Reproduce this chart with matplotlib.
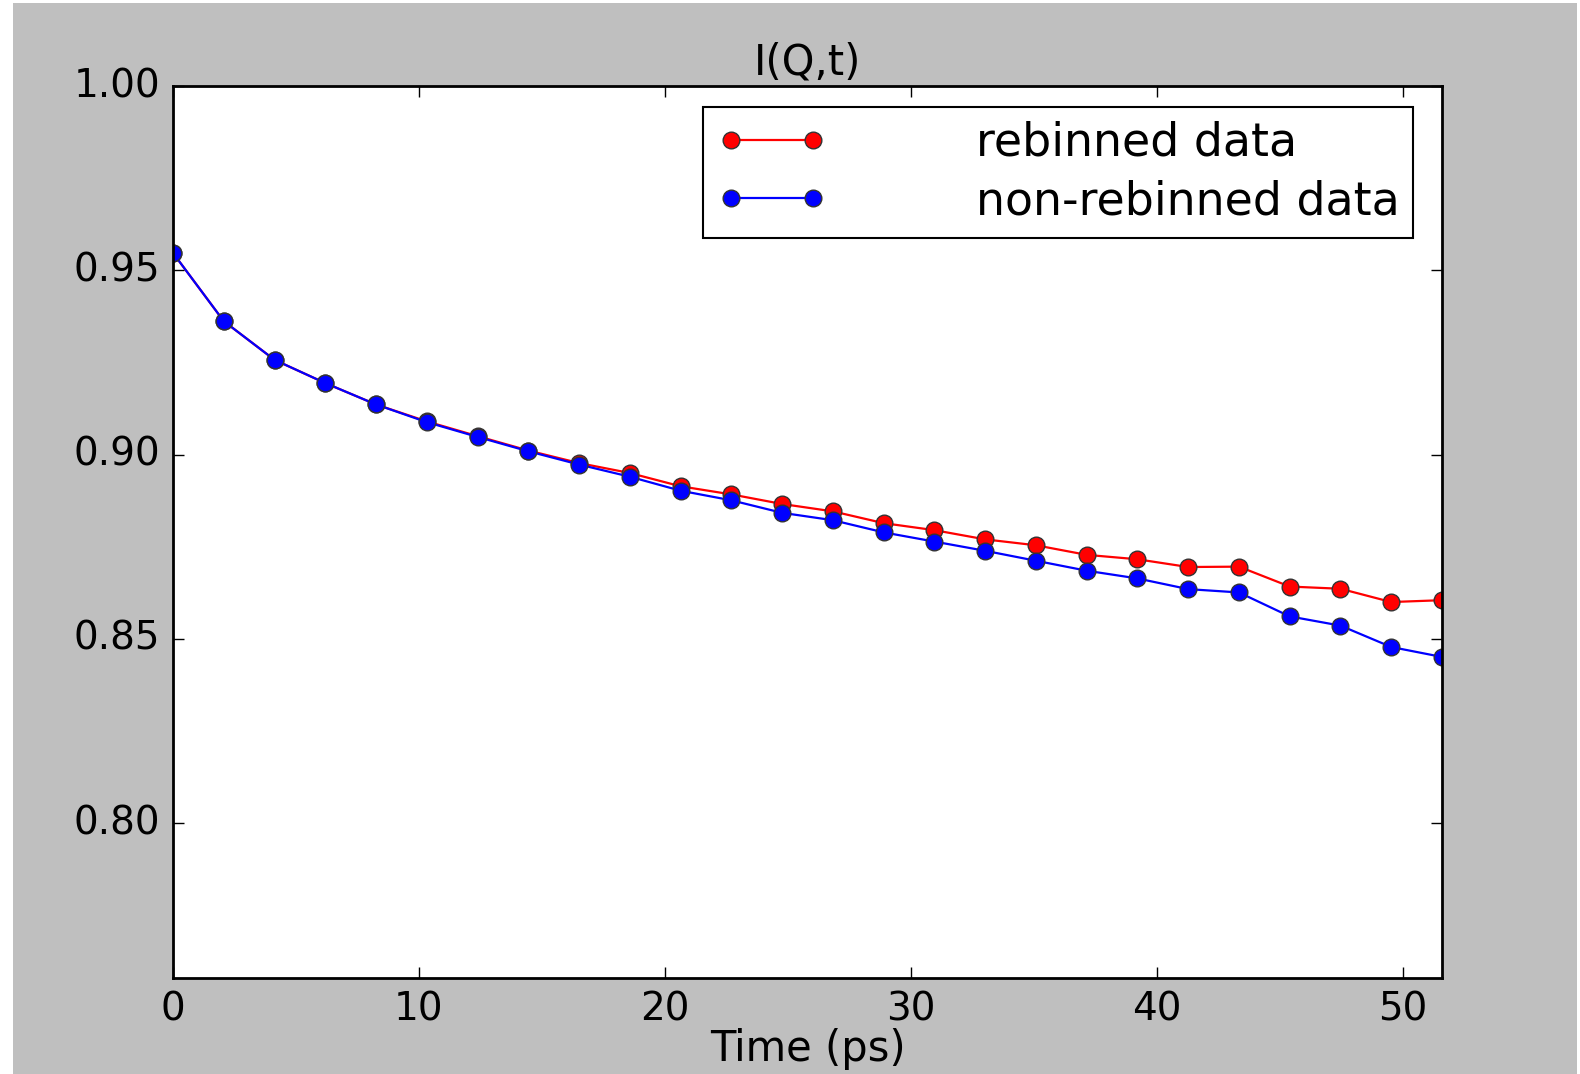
import matplotlib
matplotlib.use("Agg")
import matplotlib.pyplot as plt
from matplotlib.patches import Rectangle

# Czas (ps)
times = [0.0, 2.064, 4.128, 6.192, 8.256, 10.32, 12.384, 14.448, 16.512,
         18.576, 20.64, 22.704, 24.768, 26.832, 28.896, 30.96, 33.024,
         35.088, 37.152, 39.216, 41.28, 43.344, 45.408, 47.472, 49.536, 51.6]

rebinned = [0.9547, 0.9362, 0.9257, 0.9194, 0.9136, 0.9090, 0.9050, 0.9011,
            0.8977, 0.8950, 0.8914, 0.8892, 0.8866, 0.8846, 0.8814, 0.8795,
            0.8770, 0.8754, 0.8728, 0.8716, 0.8695, 0.8696, 0.8642, 0.8636,
            0.8600, 0.8605]

non_rebinned = [0.9547, 0.9362, 0.9257, 0.9194, 0.9136, 0.9088, 0.9048, 0.9009,
                0.8973, 0.8940, 0.8902, 0.8876, 0.8842, 0.8822, 0.8789, 0.8764,
                0.8739, 0.8712, 0.8685, 0.8664, 0.8635, 0.8626, 0.8561, 0.8536,
                0.8478, 0.8451]

plt.style.use("classic")

W, H = 1580, 1074
fig = plt.figure(figsize=(W / 100, H / 100), dpi=100, facecolor="white")
# szare tlo figury z cienka biala ramka jak w oryginale
fig.add_artist(Rectangle((13 / W, 0), (1577 - 13) / W, (H - 3) / H,
                         transform=fig.transFigure, facecolor="#bfbfbf",
                         edgecolor="none", zorder=-10))

ax = fig.add_axes([173 / W, 1 - 978 / H, (1442 - 173) / W, (978 - 86) / H])

ax.plot(times, rebinned, "o-", color="red", markerfacecolor="red",
        markeredgecolor="#333333", markeredgewidth=1.0, markersize=12,
        linewidth=1.6, label="rebinned data")
ax.plot(times, non_rebinned, "o-", color="blue", markerfacecolor="blue",
        markeredgecolor="#333333", markeredgewidth=1.0, markersize=12,
        linewidth=1.6, label="non-rebinned data")

ax.set_xlim(0, times[-1])
ax.set_ylim(0.758, 1.0)
ax.set_xticks([0, 10, 20, 30, 40, 50])
ax.set_yticks([0.80, 0.85, 0.90, 0.95, 1.00])
ax.set_yticklabels(["0.80", "0.85", "0.90", "0.95", "1.00"])

ax.tick_params(labelsize=28, length=8, width=1, pad=9, direction="in")
for s in ax.spines.values():
    s.set_linewidth(2.0)

ax.set_title("I(Q,t)", fontsize=30, pad=8)
ax.set_xlabel("Time (ps)", fontsize=30, labelpad=0)

leg = ax.legend(loc="upper right", bbox_to_anchor=(1413 / W, 1 - 107 / H),
                bbox_transform=fig.transFigure, borderaxespad=0,
                fontsize=33, numpoints=2, handlelength=2.39,
                handletextpad=3.25, borderpad=0.3, labelspacing=0.3,
                fancybox=False)
leg.get_frame().set_edgecolor("black")
leg.get_frame().set_linewidth(1.5)

fig.savefig("out.png", dpi=100, facecolor=fig.get_facecolor())
